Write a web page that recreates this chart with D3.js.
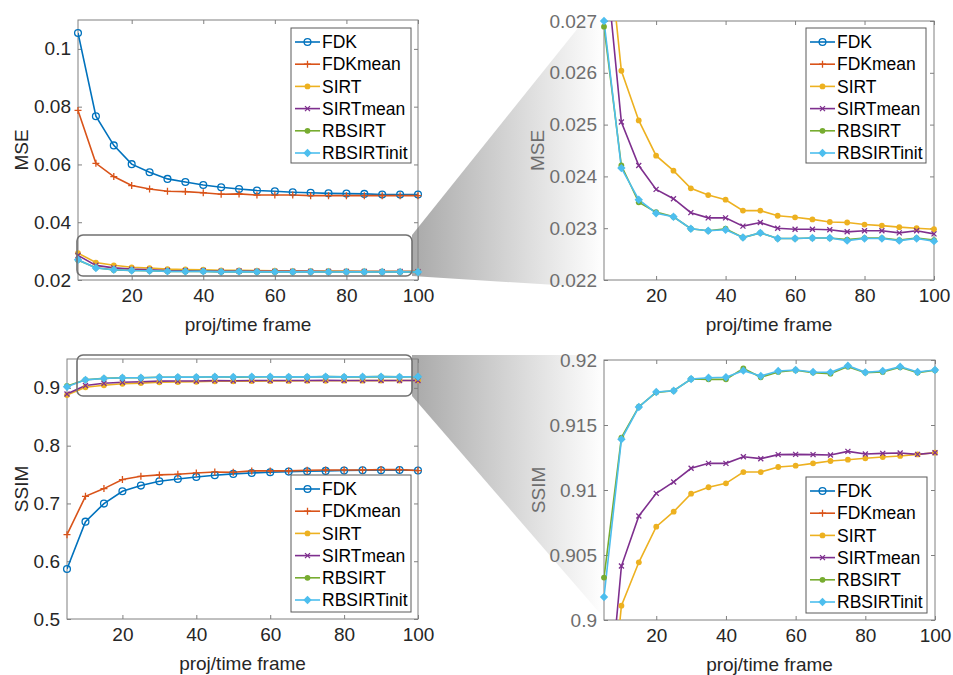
<!DOCTYPE html>
<html>
<head>
<meta charset="utf-8">
<script src="https://cdn.jsdelivr.net/npm/d3@7"></script>
<style>
  body { margin: 0; background: white; }
  svg text { font-family: "Liberation Sans", Arial, sans-serif; }
</style>
</head>
<body>
<div id="wykres"></div>
<script>

var frames = [5, 10, 15, 20, 25, 30, 35, 40, 45, 50, 55, 60, 65, 70, 75, 80, 85, 90, 95, 100];

var seriesNames = ["FDK", "FDKmean", "SIRT", "SIRTmean", "RBSIRT", "RBSIRTinit"];

var mseFDK = [0.1055, 0.0767, 0.0666, 0.0601, 0.0573, 0.0550, 0.0539, 0.0529, 0.0521, 0.0515, 0.0510, 0.0507, 0.0504, 0.0502, 0.0500, 0.0499, 0.0498, 0.0496, 0.0496, 0.0496];
var mseFDKmean = [0.0787, 0.0604, 0.0558, 0.0527, 0.0515, 0.0507, 0.0506, 0.0502, 0.0497, 0.0498, 0.0494, 0.0494, 0.0494, 0.0492, 0.0492, 0.0492, 0.0492, 0.0492, 0.0492, 0.0492];
var mseSIRT = [0.0293, 0.02604, 0.02508, 0.02440, 0.02411, 0.02377, 0.02364, 0.02355, 0.02334, 0.02334, 0.02324, 0.02321, 0.02317, 0.02312, 0.02311, 0.02307, 0.02305, 0.02302, 0.02300, 0.02298];
var mseSIRTmean = [0.0285, 0.02505, 0.02421, 0.02375, 0.02357, 0.02330, 0.02320, 0.02320, 0.02304, 0.02311, 0.02300, 0.02298, 0.02298, 0.02297, 0.02293, 0.02295, 0.02295, 0.02291, 0.02295, 0.02289];
var mseRBSIRT = [0.02689, 0.02421, 0.02350, 0.02331, 0.02322, 0.02299, 0.02295, 0.02299, 0.02282, 0.02291, 0.02280, 0.02280, 0.02281, 0.02281, 0.02278, 0.02281, 0.02281, 0.02277, 0.02281, 0.02277];
var mseRBSIRTinit = [0.02700, 0.02416, 0.02355, 0.02329, 0.02322, 0.02299, 0.02295, 0.02297, 0.02282, 0.02291, 0.02280, 0.02280, 0.02281, 0.02281, 0.02276, 0.02280, 0.02280, 0.02276, 0.02280, 0.02275];

var ssimFDK = [0.5866, 0.6685, 0.6997, 0.7211, 0.7309, 0.7384, 0.7424, 0.7459, 0.7488, 0.7511, 0.7528, 0.7540, 0.7551, 0.7557, 0.7563, 0.7569, 0.7574, 0.7574, 0.7580, 0.7569];
var ssimFDKmean = [0.6460, 0.7124, 0.7257, 0.7413, 0.7470, 0.7494, 0.7505, 0.7528, 0.7545, 0.7540, 0.7563, 0.7563, 0.7563, 0.7574, 0.7580, 0.7580, 0.7580, 0.7586, 0.7586, 0.7569];
var ssimSIRT = [0.8875, 0.9011, 0.90444, 0.90718, 0.90833, 0.90972, 0.91021, 0.91051, 0.91138, 0.91138, 0.91177, 0.91187, 0.91205, 0.91223, 0.91233, 0.91244, 0.91254, 0.91262, 0.91274, 0.91287];
var ssimSIRTmean = [0.8895, 0.90415, 0.9080, 0.90974, 0.91062, 0.91167, 0.91205, 0.91205, 0.91256, 0.91241, 0.91272, 0.91274, 0.91272, 0.91269, 0.91297, 0.91277, 0.91282, 0.91285, 0.91274, 0.91287];
var ssimRBSIRT = [0.90326, 0.91403, 0.91641, 0.91751, 0.91764, 0.91854, 0.91851, 0.91851, 0.91936, 0.91867, 0.91908, 0.91921, 0.91903, 0.91895, 0.91949, 0.91903, 0.91908, 0.91944, 0.91903, 0.91921];
var ssimRBSIRTinit = [0.90177, 0.91390, 0.91638, 0.91754, 0.91764, 0.91854, 0.91864, 0.91867, 0.91918, 0.91877, 0.91915, 0.91923, 0.91908, 0.91905, 0.91956, 0.91905, 0.91915, 0.91949, 0.91908, 0.91923];

var xTicks = [20, 40, 60, 80, 100];
var mseTicks = [0.02, 0.04, 0.06, 0.08, 0.1];
var mseZoomTicks = [0.022, 0.023, 0.024, 0.025, 0.026, 0.027];
var ssimTicks = [0.5, 0.6, 0.7, 0.8, 0.9];
var ssimZoomTicks = [0.9, 0.905, 0.91, 0.915, 0.92];

var kolory = ["#0072BD", "#D95319", "#EDB120", "#7E2F8E", "#77AC30", "#4DBEEE"];
var markery = ["circle", "plus", "dot", "cross", "dot", "diamond"];

var mseData = [mseFDK, mseFDKmean, mseSIRT, mseSIRTmean, mseRBSIRT, mseRBSIRTinit];
var ssimData = [ssimFDK, ssimFDKmean, ssimSIRT, ssimSIRTmean, ssimRBSIRT, ssimRBSIRTinit];

var FONT = '"Liberation Sans", Arial, sans-serif';

var svg = d3.select("#wykres")
  .append("svg")
  .attr("width", 953)
  .attr("height", 675)
  .style("background", "white");

var defs = svg.append("defs");

var grad = defs.append("linearGradient")
  .attr("id", "szary")
  .attr("x1", 0).attr("y1", 0)
  .attr("x2", 1).attr("y2", 0);
grad.append("stop").attr("offset", "0%").attr("stop-color", "#a9a9a9");
grad.append("stop").attr("offset", "100%").attr("stop-color", "#ffffff");

// zoom connectors (behind the axes)
svg.append("path")
  .attr("d", "M412,235 L586,18 L604,18 L604,288 L412,276 Z")
  .attr("fill", "url(#szary)");
svg.append("path")
  .attr("d", "M412,355 L604,355 L604,618 L412,396 Z")
  .attr("fill", "url(#szary)");

var panels = [
  { id: "p1", left: 78, right: 418, top: 20, bottom: 280, ydom: [0.02, 0.11], yticks: mseTicks, data: mseData,
    ylabel: "MSE", labelX: 21, gray: false, legend: { x: 291, y: 28, w: 120, h: 135 },
    zoomBox: { x: 77, y: 235, w: 335, h: 41 } },
  { id: "p2", left: 604, right: 934, top: 21, bottom: 280, ydom: [0.022, 0.027], yticks: mseZoomTicks, data: mseData,
    ylabel: "MSE", labelX: 537, gray: true, legend: { x: 806, y: 28, w: 120, h: 135 } },
  { id: "p3", left: 67, right: 418, top: 359, bottom: 619, ydom: [0.5, 0.95], yticks: ssimTicks, data: ssimData,
    ylabel: "SSIM", labelX: 21, gray: false, legend: { x: 291, y: 475, w: 120, h: 137 },
    zoomBox: { x: 77, y: 355, w: 335, h: 41 } },
  { id: "p4", left: 604, right: 935, top: 360, bottom: 620, ydom: [0.9, 0.92], yticks: ssimZoomTicks, data: ssimData,
    ylabel: "SSIM", labelX: 538, gray: true, legend: { x: 806, y: 477, w: 121, h: 136 } }
];

function marker(g, typ, kolor, x, y) {
  if (typ == "circle") {
    g.append("circle").attr("cx", x).attr("cy", y).attr("r", 3.4)
      .attr("fill", "none").attr("stroke", kolor).attr("stroke-width", 1.3);
  } else if (typ == "plus") {
    g.append("path").attr("d", "M" + (x - 3.5) + "," + y + "h7M" + x + "," + (y - 3.5) + "v7")
      .attr("stroke", kolor).attr("stroke-width", 1.3);
  } else if (typ == "cross") {
    g.append("path").attr("d", "M" + (x - 2.5) + "," + (y - 2.5) + "l5,5M" + (x - 2.5) + "," + (y + 2.5) + "l5,-5")
      .attr("stroke", kolor).attr("stroke-width", 1.3);
  } else if (typ == "dot") {
    g.append("circle").attr("cx", x).attr("cy", y).attr("r", 2.9).attr("fill", kolor);
  } else if (typ == "diamond") {
    g.append("path").attr("d", "M" + x + "," + (y - 4.2) + "l4.2,4.2l-4.2,4.2l-4.2,-4.2Z").attr("fill", kolor);
  }
}

function styleAxis(a, color) {
  a.attr("font-family", FONT).attr("font-size", 19);
  a.select(".domain").remove();
  a.selectAll("line").attr("stroke", "#808080");
  a.selectAll("text").attr("fill", color);
}

panels.forEach(function (p) {
  var width = p.right - p.left, height = p.bottom - p.top;
  var g = svg.append("g").attr("transform", "translate(" + p.left + "," + p.top + ")");

  var xscale = d3.scaleLinear().domain([5, 100]).range([0, width]);
  var yscale = d3.scaleLinear().domain(p.ydom).range([height, 0]);

  defs.append("clipPath").attr("id", "clip-" + p.id)
    .append("rect").attr("x", 0).attr("y", 0).attr("width", width).attr("height", height);

  var labelColor = p.gray ? "#6e6e6e" : "#262626";

  var xAxis = g.append("g")
    .attr("transform", "translate(0," + height + ")")
    .call(d3.axisBottom(xscale).tickValues(xTicks).tickSize(-4).tickSizeOuter(0).tickPadding(9));
  styleAxis(xAxis, "#262626");

  var yAxis = g.append("g")
    .call(d3.axisLeft(yscale).tickValues(p.yticks).tickFormat(d3.format("~g")).tickSize(-4).tickSizeOuter(0).tickPadding(7));
  styleAxis(yAxis, labelColor);

  var topAxis = g.append("g")
    .call(d3.axisTop(xscale).tickValues(xTicks).tickFormat("").tickSize(-4).tickSizeOuter(0));
  styleAxis(topAxis, labelColor);

  var rightAxis = g.append("g")
    .attr("transform", "translate(" + width + ",0)")
    .call(d3.axisRight(yscale).tickValues(p.yticks).tickFormat("").tickSize(-4).tickSizeOuter(0));
  styleAxis(rightAxis, labelColor);

  g.append("rect")
    .attr("width", width).attr("height", height)
    .attr("fill", "none").attr("stroke", "#808080").attr("stroke-width", 1);

  var kreska = d3.line()
    .x(function (d, i) { return xscale(frames[i]) })
    .y(function (d) { return yscale(d) });

  var lp = g.append("g").attr("clip-path", "url(#clip-" + p.id + ")");
  p.data.forEach(function (seria, k) {
    lp.append("path")
      .datum(seria)
      .attr("d", kreska)
      .attr("fill", "none")
      .attr("stroke", kolory[k])
      .attr("stroke-width", 1.6);
  });

  var mk = g.append("g");
  p.data.forEach(function (seria, k) {
    seria.forEach(function (v, i) {
      if (v < p.ydom[0] - 1e-9 || v > p.ydom[1] + 1e-9) return;
      marker(mk, markery[k], kolory[k], xscale(frames[i]), yscale(v));
    });
  });

  if (p.zoomBox) {
    svg.append("rect")
      .attr("x", p.zoomBox.x).attr("y", p.zoomBox.y)
      .attr("width", p.zoomBox.w).attr("height", p.zoomBox.h)
      .attr("rx", 6)
      .attr("fill", "none").attr("stroke", "#707070").attr("stroke-width", 1.6);
  }

  g.append("text")
    .attr("x", width / 2)
    .attr("y", height + 51)
    .attr("text-anchor", "middle")
    .attr("fill", "#262626")
    .style("font-size", "19px")
    .text("proj/time frame");

  svg.append("text")
    .attr("transform", "translate(" + p.labelX + "," + (p.top + height / 2) + ")rotate(-90)")
    .attr("text-anchor", "middle")
    .attr("dy", "0.35em")
    .attr("fill", labelColor)
    .style("font-size", "19px")
    .text(p.ylabel);

  // legend
  var lg = svg.append("g").attr("transform", "translate(" + p.legend.x + "," + p.legend.y + ")");
  lg.append("rect")
    .attr("width", p.legend.w).attr("height", p.legend.h)
    .attr("fill", "white").attr("stroke", "#5a5a5a").attr("stroke-width", 1);
  seriesNames.forEach(function (nazwa, k) {
    var yy = 14 + k * 22.2;
    lg.append("line")
      .attr("x1", 4).attr("x2", 29).attr("y1", yy).attr("y2", yy)
      .attr("stroke", kolory[k]).attr("stroke-width", 1.6);
    marker(lg, markery[k], kolory[k], 16.5, yy);
    lg.append("text")
      .attr("x", 31).attr("y", yy)
      .attr("dy", "0.35em")
      .attr("fill", "#000")
      .style("font-size", "17.5px")
      .text(nazwa);
  });
});

</script>
</body>
</html>
